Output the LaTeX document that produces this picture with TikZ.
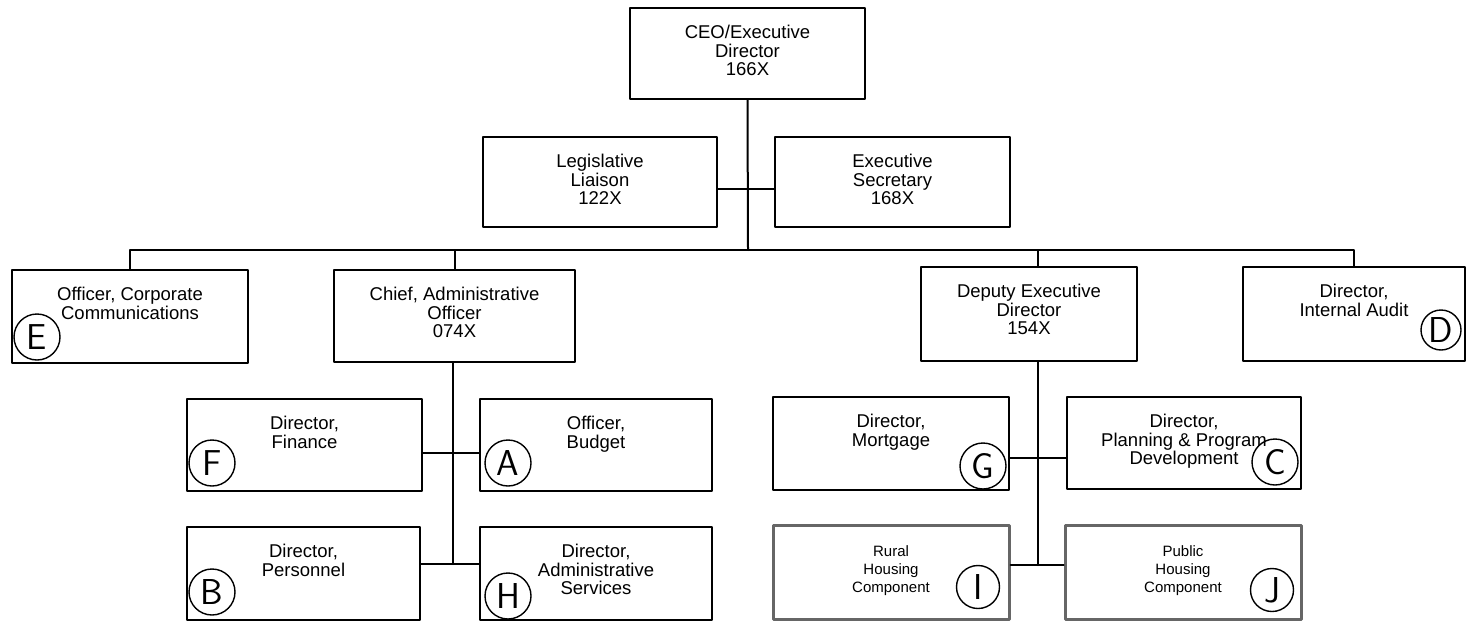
\documentclass[tikz,border=0pt]{standalone}
\usepackage{fontspec}
\setmainfont{Liberation Sans}
\usetikzlibrary{positioning}

\tikzset{
  unit/.style={draw, line width=2pt, inner sep=0pt},
  unitgrey/.style={draw=black!60, line width=3pt, inner sep=0pt},
  unitlabel/.style={inner sep=0pt, anchor=north, align=center, font=\fontsize{18.5}{18.5}\selectfont},
  smalllabel/.style={inner sep=0pt, anchor=north, align=center, font=\fontsize{15}{18}\selectfont},
  link/.style={line width=2pt},
  tag/.style={circle, draw, line width=1.4pt, minimum size=46pt, inner sep=0pt, font=\sffamily\fontsize{36}{36}\selectfont}
}

% name, left, top, right, bottom, text
\newcommand{\unitbox}[7][unit]{%
  \node[#1, minimum width=#5-#3, minimum height=#6-#4] (#2) at ({(#3+#5)/2},{(#4+#6)/2}) {};
  \node[unitlabel] (#2-t) at ([yshift=-18pt]#2.north) {#7};
}

\begin{document}
\begin{tikzpicture}[x=1pt,y=-1pt,line cap=round,line join=round]
\useasboundingbox (0,0) rectangle (1467,621);

\unitbox{ceo}{630}{8}{865}{99}{CEO/Executive\\Director\\166X}
\unitbox{legis}{483}{137}{717}{227}{Legislative\\Liaison\\122X}
\unitbox{exec}{775}{137}{1010}{227}{Executive\\Secretary\\168X}

\unitbox{officer}{12}{270}{248}{363}{Officer, Corporate\\Communications}
\unitbox{chief}{334}{270}{575}{362}{Chief, Administrative\\Officer\\074X}
\unitbox{deputy}{921}{267}{1137}{361}{Deputy Executive\\Director\\154X}
\unitbox{audit}{1243}{267}{1465}{361}{Director,\\Internal Audit}

\unitbox{finance}{187}{399}{422}{491}{Director,\\Finance}
\unitbox{budget}{480}{399}{712}{491}{Officer,\\Budget}
\unitbox{personnel}{187}{527}{420}{620}{Director,\\Personnel}
\unitbox{adminsvc}{480}{527}{712}{620}{Director,\\Administrative\\Services}

\unitbox{mortgage}{773}{397}{1009}{490}{Director,\\Mortgage}
\unitbox{planning}{1067}{397}{1301}{489}{Director,\\Planning \& Program\\Development}
\node[unitgrey, minimum width=236, minimum height=94] (rural) at (891,572) {};
\node[smalllabel] (rural-t) at ([yshift=-22pt]rural.north) {Rural\\Housing\\Component};
\node[unitgrey, minimum width=236, minimum height=94] (public) at (1183,572) {};
\node[smalllabel] (public-t) at ([yshift=-22pt]public.north) {Public\\Housing\\Component};

% connectors
\coordinate (bus) at (748,250);
\coordinate (cj1) at (453,453);
\coordinate (cj2) at (453,564);
\coordinate (dj1) at (1038,458);
\coordinate (dj2) at (1038,565);

\draw[link] (ceo.south) -- (bus);
\draw[link] ([yshift=-7pt]legis.east) -- ([yshift=-7pt]exec.west);
\draw[link] (officer.north) -- (officer.north |- bus) -- (audit.north |- bus) -- (audit.north);
\draw[link] (chief.north |- bus) -- (chief.north);
\draw[link] ([xshift=9pt]deputy.north |- bus) -- ([xshift=9pt]deputy.north);

\draw[link] (chief.south -| cj2) -- (cj2);
\draw[link] (finance.east |- cj1) -- (budget.west |- cj1);
\draw[link] (personnel.east |- cj2) -- (adminsvc.west |- cj2);

\draw[link] (deputy.south -| dj2) -- (dj2);
\draw[link] (mortgage.east |- dj1) -- (planning.west |- dj1);
\draw[link] (rural.east |- dj2) -- (public.west |- dj2);

% circled letters
\node[tag] (tagE) at (37,337) {E};
\node[tag, minimum size=40pt] (tagD) at (1441,330) {D};
\node[tag] (tagF) at (212,463) {F};
\node[tag] (tagA) at (508,463) {A};
\node[tag] (tagB) at (212,592) {B};
\node[tag] (tagH) at (508,596) {H};
\node[tag] (tagG) at (983,466) {G};
\node[tag] (tagC) at (1275,462) {C};
\node[tag, minimum size=43pt] (tagI) at (978,587) {I};
\node[tag, minimum size=43pt] (tagJ) at (1272,590) {J};
\end{tikzpicture}
\end{document}
